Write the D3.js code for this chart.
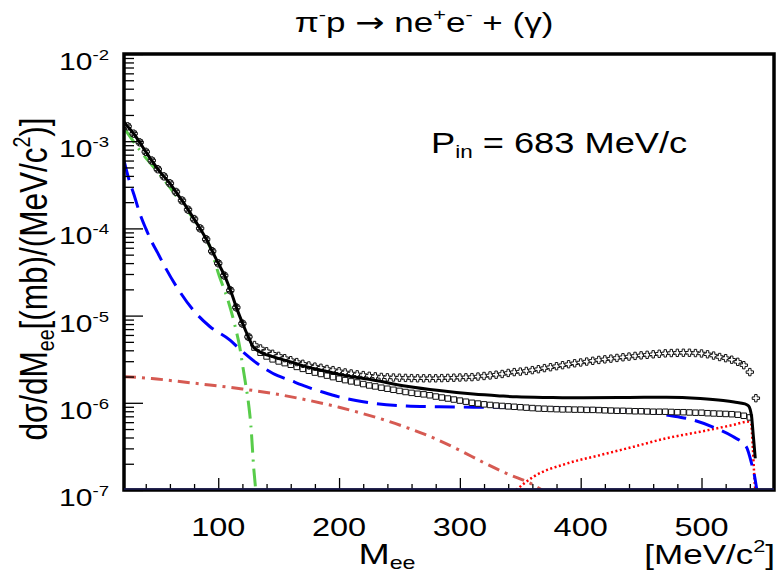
<!DOCTYPE html>
<html><head><meta charset="utf-8">
<script src="https://cdn.jsdelivr.net/npm/d3@7"></script>
<style>body{margin:0;background:#fff}svg{display:block;font-family:"Liberation Sans",Arial,Helvetica,sans-serif}</style>
</head><body><svg id="c" width="782" height="574"></svg>
<script>
// ---------------- data ----------------
const xDomain = [22, 560];
const yDomain = [1e-7, 1e-2];
const xTickValues = [100, 200, 300, 400, 500];
const xTickLabels = ["100", "200", "300", "400", "500"];
const xMinorValues = [40, 60, 80, 120, 140, 160, 180, 220, 240, 260, 280, 320, 340, 360, 380, 420, 440, 460, 480, 520, 540];
const yTickExponents = [-7, -6, -5, -4, -3, -2];

// total (black solid)
const totalM = [22,25,31,35,40.8,45,50.4,55,60,65,69.7,75.2,80,84.9,90.4,95,100,105.6,111,115.3,120.7,124.9,128,135,145,160,173,187,200,228,256,283,311,333,347,375,402,440,471,499,518,527,536,539,541.4,543,544.5];
const totalV = [1.66e-3,1.48e-3,1.17e-3,9.7e-4,7.3e-4,6.0e-4,4.7e-4,3.95e-4,3.29e-4,2.62e-4,2.12e-4,1.63e-4,1.28e-4,1.0e-4,7.4e-5,5.5e-5,4.0e-5,2.8e-5,1.8e-5,1.21e-5,7.8e-6,5.7e-6,4.6e-6,3.8e-6,3.38e-6,2.95e-6,2.6e-6,2.33e-6,2.12e-6,1.83e-6,1.55e-6,1.38e-6,1.26e-6,1.2e-6,1.17e-6,1.15e-6,1.14e-6,1.15e-6,1.16e-6,1.12e-6,1.06e-6,1.02e-6,9.7e-7,9.2e-7,7.0e-7,4.0e-7,2.3e-7];

// marker bins
const markerM = [25,30,35,40,45,50,55,60,65,70,75,80,85,90,95,100,105,110,115,120,125,
130,135,140,145,150,155,160,165,170,175,180,185,190,195,200,205,210,215,220,225,230,235,240,245,250,
255,260,265,270,275,280,285,290,295,300,305,310,315,320,325,330,335,340,345,350,355,360,365,370,375,
380,385,390,395,400,405,410,415,420,425,430,435,440,445,450,455,460,465,470,475,480,485,490,495,500,
505,510,515,520,525,530,535,540,545];
// open crosses (upper marker series)
const crossV = [1.48e-3,1.22e-3,9.7e-4,7.55e-4,6.0e-4,4.77e-4,3.95e-4,3.29e-4,2.62e-4,2.09e-4,1.64e-4,1.28e-4,1.0e-4,7.5e-5,5.48e-5,3.98e-5,2.88e-5,1.95e-5,1.24e-5,8.1e-6,5.7e-6,
4.6e-6,4.2e-6,3.9e-6,3.65e-6,3.45e-6,3.25e-6,3.08e-6,2.93e-6,2.8e-6,2.68e-6,2.6e-6,2.52e-6,2.44e-6,2.37e-6,2.3e-6,2.23e-6,2.17e-6,2.12e-6,2.08e-6,2.04e-6,2.01e-6,1.98e-6,1.96e-6,1.95e-6,1.94e-6,
1.93e-6,1.92e-6,1.91e-6,1.91e-6,1.91e-6,1.91e-6,1.92e-6,1.93e-6,1.94e-6,1.95e-6,1.96e-6,1.97e-6,2.0e-6,2.03e-6,2.06e-6,2.1e-6,2.14e-6,2.2e-6,2.25e-6,2.28e-6,2.32e-6,2.37e-6,2.43e-6,2.5e-6,2.56e-6,
2.63e-6,2.7e-6,2.77e-6,2.84e-6,2.9e-6,2.97e-6,3.03e-6,3.1e-6,3.15e-6,3.21e-6,3.27e-6,3.33e-6,3.39e-6,3.45e-6,3.5e-6,3.55e-6,3.6e-6,3.65e-6,3.69e-6,3.72e-6,3.74e-6,3.75e-6,3.75e-6,3.72e-6,3.68e-6,
3.6e-6,3.48e-6,3.35e-6,3.25e-6,3.12e-6,2.95e-6,2.7e-6,2.25e-6,1.13e-6];
// open squares (lower marker series)
const squareV = [1.48e-3,1.22e-3,9.7e-4,7.55e-4,6.0e-4,4.77e-4,3.95e-4,3.29e-4,2.62e-4,2.09e-4,1.64e-4,1.28e-4,1.0e-4,7.5e-5,5.48e-5,3.98e-5,2.88e-5,1.95e-5,1.24e-5,8.1e-6,5.7e-6,
4.3e-6,3.75e-6,3.4e-6,3.15e-6,2.98e-6,2.85e-6,2.73e-6,2.58e-6,2.45e-6,2.33e-6,2.22e-6,2.14e-6,2.05e-6,1.97e-6,1.89e-6,1.82e-6,1.76e-6,1.71e-6,1.64e-6,1.58e-6,1.54e-6,1.49e-6,1.45e-6,1.41e-6,1.37e-6,
1.33e-6,1.3e-6,1.27e-6,1.25e-6,1.22e-6,1.18e-6,1.15e-6,1.12e-6,1.09e-6,1.06e-6,1.03e-6,1.0e-6,9.8e-7,9.6e-7,9.45e-7,9.3e-7,9.2e-7,9.1e-7,9.0e-7,8.9e-7,8.8e-7,8.7e-7,8.6e-7,8.55e-7,8.5e-7,
8.45e-7,8.4e-7,8.4e-7,8.35e-7,8.35e-7,8.3e-7,8.3e-7,8.25e-7,8.2e-7,8.15e-7,8.1e-7,8.1e-7,8.05e-7,8.0e-7,8.0e-7,7.95e-7,7.9e-7,7.9e-7,7.9e-7,7.85e-7,7.8e-7,7.8e-7,7.75e-7,7.7e-7,7.7e-7,
7.6e-7,7.55e-7,7.5e-7,7.45e-7,7.4e-7,7.3e-7,7.1e-7,6.8e-7,null];

// blue dashed
const blueM = [22,27,30,35,40,45,50,56,65,79,93,110,118,132,145,160,173,187,200,214,228,256,283,311,347,389,420,444,460,471,493,512,526,537,541.5,544,545.8];
const blueV = [6.0e-4,3.3e-4,2.5e-4,1.5e-4,1.0e-4,7.0e-5,5.2e-5,3.6e-5,2.2e-5,1.17e-5,7.5e-6,5.2e-6,4.1e-6,2.84e-6,2.18e-6,1.8e-6,1.53e-6,1.32e-6,1.17e-6,1.06e-6,9.9e-7,9.2e-7,9.0e-7,8.9e-7,8.85e-7,8.65e-7,8.4e-7,8.1e-7,7.7e-7,7.25e-7,6.35e-7,5.1e-7,4.1e-7,3.14e-7,2.0e-7,1.42e-7,1.0e-7];

// green dash-dot
const greenM = [22,35,52,68,82,93,101,108,114,118,120,122.5,125,127,129.5,130.5,131];
const greenV = [1.42e-3,7.9e-4,4.1e-4,2.1e-4,1.14e-4,6.2e-5,2.8e-5,1.51e-5,7.5e-6,4.2e-6,2.8e-6,1.7e-6,1.0e-6,5.5e-7,1.7e-7,1.2e-7,1.0e-7];

// red dash-dot
const redDDM = [22,45,64,93,120,145,173,200,220,240,256,270,280,300,320,341,358,368];
const redDDV = [2.0e-6,1.9e-6,1.78e-6,1.6e-6,1.44e-6,1.28e-6,1.08e-6,8.9e-7,7.5e-7,6.2e-7,5.2e-7,4.4e-7,3.85e-7,2.85e-7,2.05e-7,1.5e-7,1.2e-7,1.0e-7];

// red dotted
const redDotM = [346.5,361,389,416.5,444,471,499,526,538.6,541,542.5,543.5,544.5];
const redDotV = [1.0e-7,1.42e-7,2.02e-7,2.52e-7,3.14e-7,3.92e-7,4.66e-7,5.57e-7,6.07e-7,5.8e-7,3.0e-7,1.6e-7,1.0e-7];

// ---------------- drawing ----------------
const L = 124, R = 774, T = 54, B = 490;
const STRETCH = 1.25;   // horizontal stretch of the original lettering
const svg = d3.select('#c');
const x = d3.scaleLinear().domain(xDomain).range([L, R]);
const y = d3.scaleLog().domain(yDomain).range([B, T]);

svg.append('defs').append('clipPath').attr('id', 'clip')
  .append('rect').attr('x', L).attr('y', T).attr('width', R - L).attr('height', B - T);

const zip = (a, b) => a.map((v, i) => [v, b[i]]);
const line = d3.line().x(d => x(d[0])).y(d => y(d[1])).curve(d3.curveMonotoneX)
  .defined(d => d[1] != null);

const plot = svg.append('g').attr('clip-path', 'url(#clip)');

plot.append('path').datum(zip(redDotM, redDotV)).attr('d', line)
  .attr('fill', 'none').attr('stroke', '#ff0000').attr('stroke-width', 2.5).attr('stroke-dasharray', '2,2.5');
plot.append('path').datum(zip(redDDM, redDDV)).attr('d', line)
  .attr('fill', 'none').attr('stroke', '#d65a52').attr('stroke-width', 3).attr('stroke-dasharray', '12,6,3,6');
plot.append('path').datum(zip(blueM, blueV)).attr('d', line)
  .attr('fill', 'none').attr('stroke', '#0000ff').attr('stroke-width', 3).attr('stroke-dasharray', '20,9');
plot.append('path').datum(zip(greenM, greenV)).attr('d', line)
  .attr('fill', 'none').attr('stroke', '#58cc4a').attr('stroke-width', 3).attr('stroke-dasharray', '18,7,2,7');

const sq = d3.symbol().type(d3.symbolSquare).size(30);
const cr = d3.symbol().type(d3.symbolCross).size(30);
plot.append('g').selectAll('path').data(zip(markerM, squareV).filter(d => d[1] != null)).join('path')
  .attr('transform', d => `translate(${x(d[0])},${y(d[1])})`).attr('d', sq)
  .attr('fill', '#fff').attr('stroke', '#111').attr('stroke-width', 1);
plot.append('g').selectAll('path').data(zip(markerM, crossV)).join('path')
  .attr('transform', d => `translate(${x(d[0])},${y(d[1])})`).attr('d', cr)
  .attr('fill', '#fff').attr('stroke', '#111').attr('stroke-width', 1);

plot.append('path').datum(zip(totalM, totalV)).attr('d', line)
  .attr('fill', 'none').attr('stroke', '#000').attr('stroke-width', 3);

// axes ticks
const xMajor = d3.axisBottom(x).tickValues(xTickValues).tickSize(-12).tickFormat('');
const xMinor = d3.axisBottom(x).tickValues(xMinorValues).tickSize(-6).tickFormat('');
const gxM = svg.append('g').attr('transform', `translate(0,${B})`).call(xMajor);
const gxm = svg.append('g').attr('transform', `translate(0,${B})`).call(xMinor);
[gxM, gxm].forEach(g => { g.select('.domain').remove(); g.selectAll('line').attr('stroke', '#000').attr('stroke-width', 1.3); });

const yMajorVals = yTickExponents.map(e => Math.pow(10, e));
const yMinorVals = [];
yTickExponents.slice(0, -1).forEach(e => { for (let k = 2; k <= 9; k++) yMinorVals.push(k * Math.pow(10, e)); });
const yMajor = d3.axisLeft(y).tickValues(yMajorVals).tickSize(-19).tickFormat('');
const yMinor = d3.axisLeft(y).tickValues(yMinorVals).tickSize(-10).tickFormat('');
const gyM = svg.append('g').attr('transform', `translate(${L},0)`).call(yMajor);
const gym = svg.append('g').attr('transform', `translate(${L},0)`).call(yMinor);
[gyM, gym].forEach(g => { g.select('.domain').remove(); g.selectAll('line').attr('stroke', '#000').attr('stroke-width', 1.3); });

// frame
svg.append('rect').attr('x', L).attr('y', T).attr('width', R - L).attr('height', B - T)
  .attr('fill', 'none').attr('stroke', '#000').attr('stroke-width', 3.5);
svg.append('line').attr('x1', L).attr('x2', R).attr('y1', B - 1).attr('y2', B - 1)
  .attr('stroke', '#1c1c55').attr('stroke-width', 1.5);

// rich text helper: parts [{t, s:'sup'|'sub', f:fontFamily}]
function rich(px, py, anchor, size, parts, rot) {
  const g = svg.append('g').attr('transform', `translate(${px},${py}) scale(${STRETCH},1)` + (rot ? ` rotate(${rot})` : ''));
  const t = g.append('text').attr('text-anchor', anchor).attr('font-size', size);
  let carry = 0;
  parts.forEach(p => {
    const ts = t.append('tspan').text(p.t);
    if (p.f) ts.attr('font-family', p.f);
    if (p.s === 'sup') { ts.attr('font-size', size * 0.62).attr('dy', carry - size * 0.42); carry = size * 0.42; }
    else if (p.s === 'sub') { ts.attr('font-size', size * 0.62).attr('dy', carry + size * 0.18); carry = -size * 0.18; }
    else { if (carry) ts.attr('dy', carry); carry = 0; }
  });
  return t;
}

// x tick labels
xTickValues.forEach((v, i) => rich(x(v), 536, 'middle', 26, [{t: xTickLabels[i]}]));

// y tick labels
yTickExponents.forEach(e => rich(109, y(Math.pow(10, e)) + 16, 'end', 24, [{t: '10'}, {t: String(e), s: 'sup'}]));

// title
rich(424, 32, 'middle', 28, [{t: 'π'}, {t: '-', s: 'sup'}, {t: 'p '}, {t: '→', f: '"DejaVu Sans"'}, {t: ' ne'}, {t: '+', s: 'sup'}, {t: 'e'}, {t: '-', s: 'sup'}, {t: ' + (γ)'}]);

// annotation
rich(431, 153, 'start', 29, [{t: 'P'}, {t: 'in', s: 'sub'}, {t: ' = 683 MeV/c'}]);

// x axis titles
rich(387, 564, 'middle', 30, [{t: 'M'}, {t: 'ee', s: 'sub'}]);
rich(775, 564, 'end', 28, [{t: '[MeV/c'}, {t: '2', s: 'sup'}, {t: ']'}]);

// y axis title
rich(47, 279, 'middle', 31.5, [{t: 'dσ/dM'}, {t: 'ee', s: 'sub'}, {t: '[(mb)/(MeV/c'}, {t: '2', s: 'sup'}, {t: ')]'}], -90);
</script></body></html>
